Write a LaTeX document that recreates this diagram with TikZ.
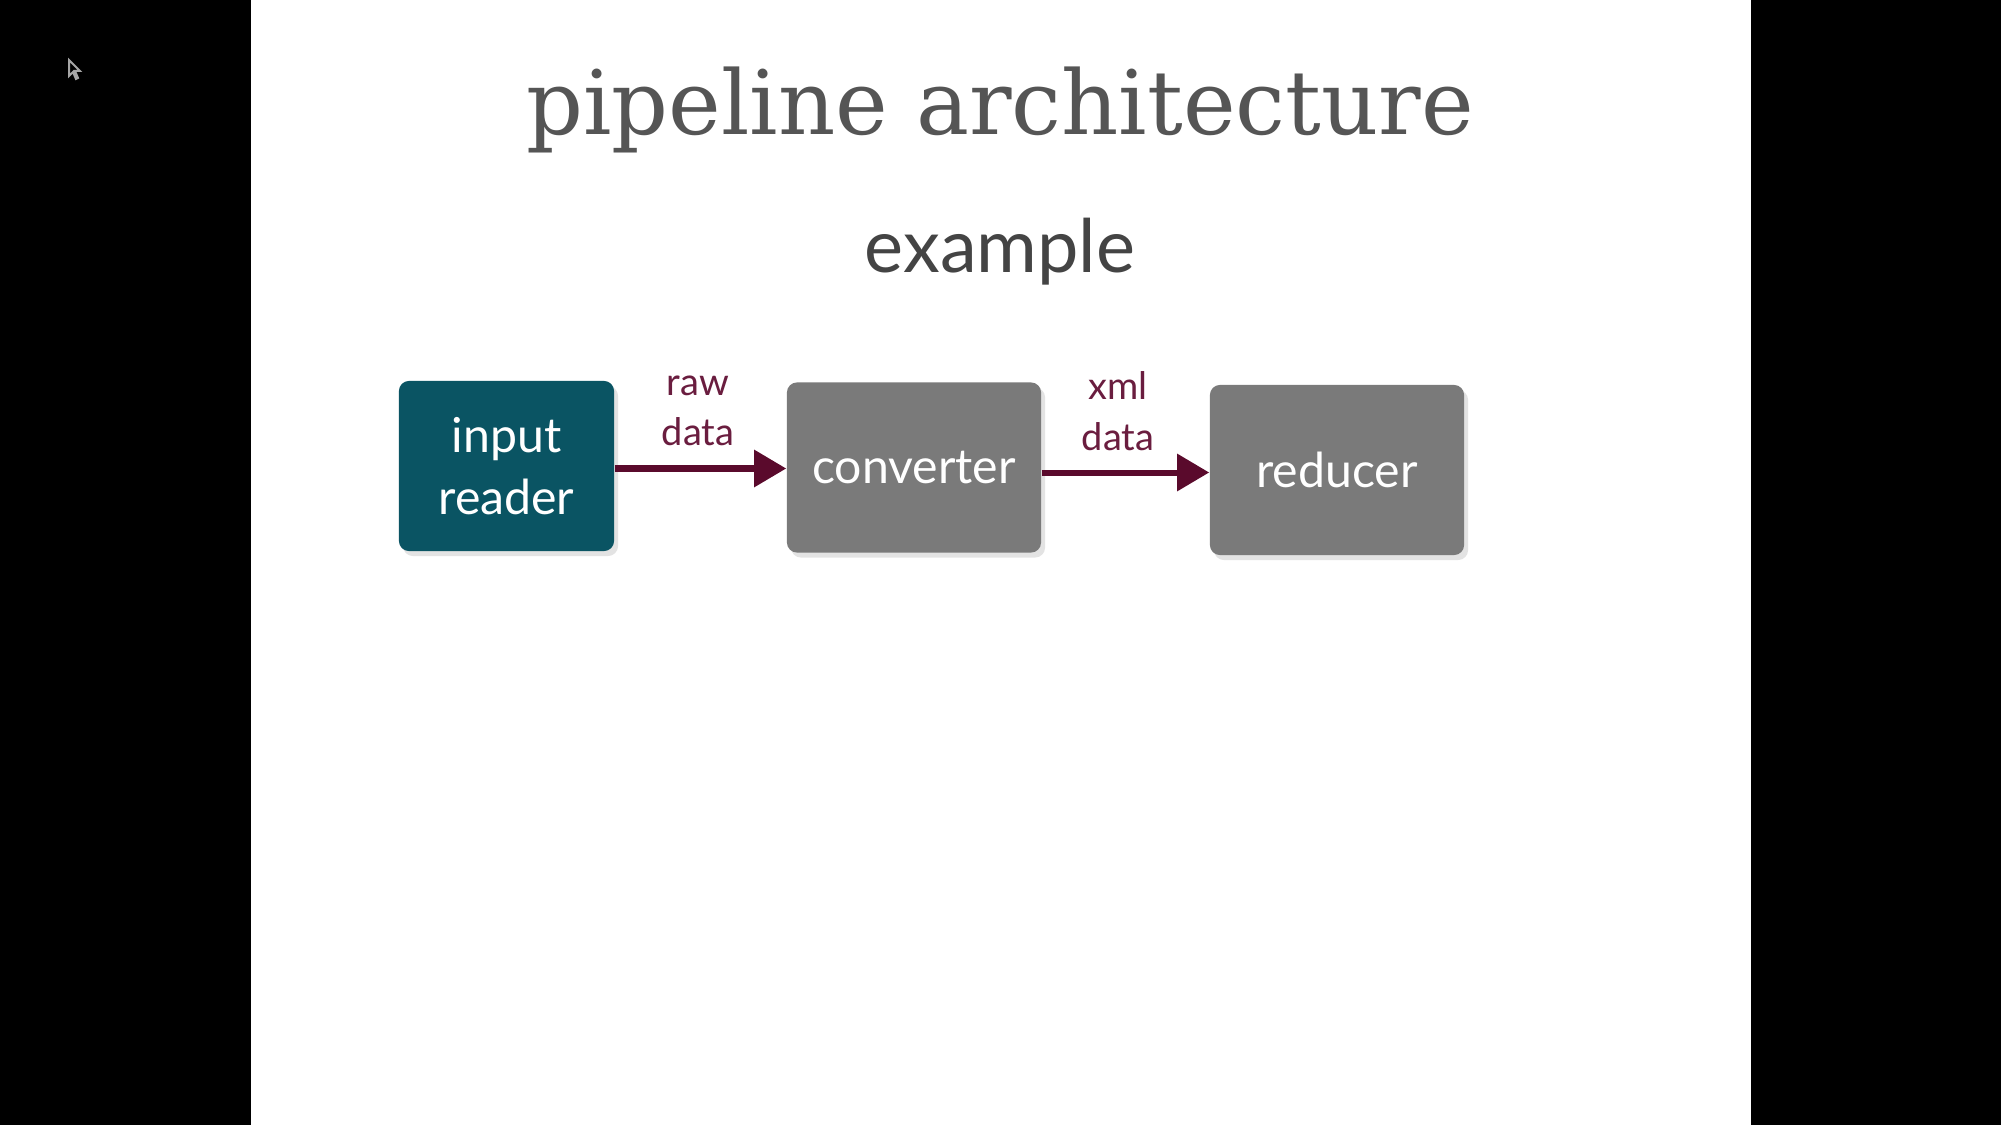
\documentclass[tikz,border=0pt]{standalone}
\usepackage{fontspec}
\setmainfont{Lato}
\newfontfamily\titlefont{DejaVu Serif}
\usetikzlibrary{arrows.meta,shadows}
\definecolor{slidebg}{HTML}{000000}
\definecolor{teal}{HTML}{0A5463}
\definecolor{boxgray}{HTML}{7A7A7A}
\definecolor{arrowred}{HTML}{5A0A2C}
\definecolor{labelred}{HTML}{6A1D3F}
\definecolor{titlegray}{HTML}{555555}
\definecolor{subgray}{HTML}{444444}
\tikzset{
  stagebox/.style={rounded corners=0.1cm, minimum height=1.7cm, text=white, align=center,
    font=\fontsize{13.7}{17.7}\selectfont,
    drop shadow={opacity=0.22, shadow xshift=0.04cm, shadow yshift=-0.05cm}},
  flow/.style={draw=arrowred, line width=0.06cm, -{Triangle[length=0.32cm, width=0.36cm]}},
  flowlabel/.style={text=labelred, align=center, font=\fontsize{10.8}{14.4}\selectfont},
}
\begin{document}
\begin{tikzpicture}[x=0.01cm,y=-0.01cm]
\fill[slidebg] (0,0) rectangle (2001,1125);
\fill[white] (251,0) rectangle (1751,1125);
\useasboundingbox (0,0) rectangle (2001,1125);
% cursor
\draw[gray!70, line width=0.02cm, fill=black] (69,60) -- (69,76) -- (73,72) -- (76,79) -- (78,78) -- (75,71) -- (80,71) -- cycle;
\node[anchor=base, text=titlegray, font=\titlefont\fontsize{25.3}{30}\selectfont] (title) at (1000,135) {pipeline architecture};
\node[anchor=base, text=subgray, font=\fontsize{21}{25}\selectfont] (sub) at (1000,273) {example};
\node[stagebox, fill=teal, minimum width=2.15cm] (in) at (506.5,466) {input\\reader};
\node[stagebox, fill=boxgray, minimum width=2.54cm] (conv) at (914,467.5) {converter};
\node[stagebox, fill=boxgray, minimum width=2.54cm] (red) at (1337,470) {reducer};
\draw[flow] ([yshift=-0.025cm]in.east) -- ([yshift=-0.025cm]in.east -| conv.west);
\draw[flow] ([yshift=-0.05cm]conv.east) -- ([yshift=-0.05cm]conv.east -| red.west);
\node[flowlabel] (l1) at (698,411) {raw\\data};
\node[flowlabel] (l2) at (1118,411) {xml\\data};
\end{tikzpicture}
\end{document}
